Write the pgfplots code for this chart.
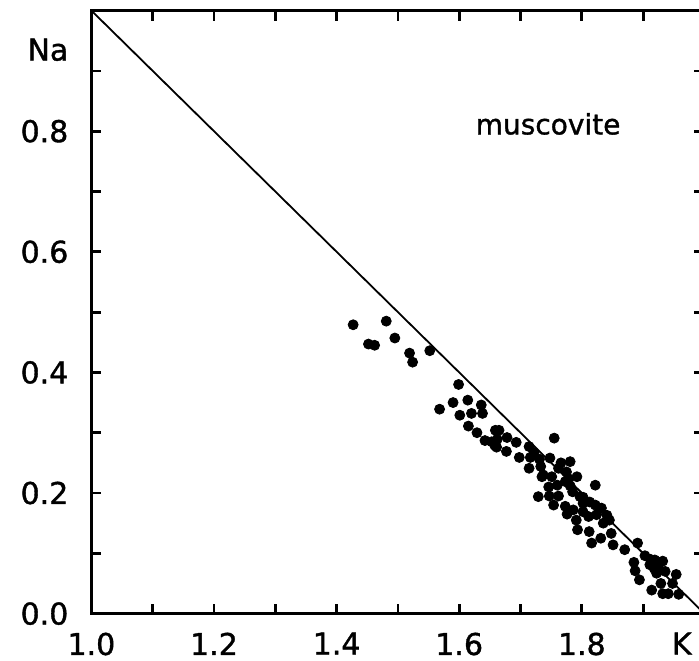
\documentclass[border=0pt]{standalone}
\usepackage{pgfplots}
\pgfplotsset{compat=1.18}
\usepackage{fontspec}
\setmainfont{DejaVu Sans}[FakeBold=1.2]
\begin{document}
\begin{tikzpicture}
\begin{axis}[
  scale only axis, width=306.5pt, height=301.5pt,
  xmin=1, xmax=2, ymin=0, ymax=1,
  axis line style={line width=1.5pt},
  every tick/.style={line width=1.4pt, black},
  major tick length=5pt,
  tick align=inside,
  xtick={1.0,1.1,1.2,1.3,1.4,1.5,1.6,1.7,1.8,1.9},
  xticklabels={1.0,,1.2,,1.4,,1.6,,1.8,},
  ytick={0,0.1,0.2,0.3,0.4,0.5,0.6,0.7,0.8,0.9},
  yticklabels={0.0,,0.2,,0.4,,0.6,,0.8,},
  extra x ticks={1.963}, extra x tick labels={K},
  extra x tick style={major tick length=0pt},
  extra y ticks={0.935}, extra y tick labels={Na},
  extra y tick style={major tick length=0pt},
  /pgf/number format/assume math mode=true,
  ticklabel style={font=\fontsize{15}{18}\selectfont},
  xticklabel style={yshift=-6pt},
  yticklabel style={xshift=-8pt},
  clip=false,
]
\addplot[line width=0.9pt, black] coordinates {(1,1) (2,0)};
\addplot[only marks, mark=*, mark size=2.5pt, black] table {
x y
1.427 0.479
1.481 0.485
1.452 0.447
1.462 0.445
1.495 0.457
1.519 0.432
1.524 0.417
1.552 0.436
1.599 0.380
1.568 0.339
1.590 0.350
1.614 0.354
1.636 0.346
1.601 0.329
1.620 0.332
1.638 0.332
1.615 0.311
1.629 0.300
1.659 0.304
1.665 0.304
1.642 0.287
1.653 0.285
1.658 0.279
1.662 0.289
1.661 0.276
1.678 0.292
1.677 0.269
1.693 0.284
1.698 0.259
1.714 0.277
1.716 0.259
1.714 0.241
1.722 0.267
1.731 0.256
1.733 0.244
1.735 0.227
1.729 0.194
1.748 0.258
1.755 0.291
1.751 0.227
1.746 0.210
1.747 0.195
1.762 0.241
1.760 0.213
1.762 0.195
1.775 0.235
1.781 0.252
1.773 0.219
1.754 0.180
1.773 0.178
1.792 0.227
1.785 0.202
1.797 0.194
1.776 0.165
1.791 0.155
1.793 0.139
1.737 0.230
1.778 0.224
1.781 0.212
1.786 0.172
1.766 0.250
1.802 0.193
1.802 0.183
1.822 0.213
1.822 0.180
1.811 0.161
1.812 0.136
1.824 0.164
1.816 0.117
1.832 0.175
1.835 0.150
1.841 0.163
1.845 0.155
1.831 0.125
1.848 0.133
1.851 0.114
1.813 0.185
1.802 0.169
1.870 0.106
1.891 0.117
1.885 0.085
1.887 0.071
1.894 0.056
1.903 0.096
1.911 0.081
1.918 0.075
1.919 0.089
1.932 0.087
1.922 0.067
1.936 0.070
1.914 0.039
1.929 0.050
1.932 0.033
1.941 0.033
1.948 0.050
1.954 0.065
1.958 0.032
1.912 0.090
1.925 0.080
};
\node[font=\fontsize{14}{17}\selectfont] at (axis cs:1.745,0.812) {muscovite};
\end{axis}
\pgfresetboundingbox
\useasboundingbox (-45.7pt,-23.2pt) rectangle (303.8pt,306.8pt);
\end{tikzpicture}
\end{document}
